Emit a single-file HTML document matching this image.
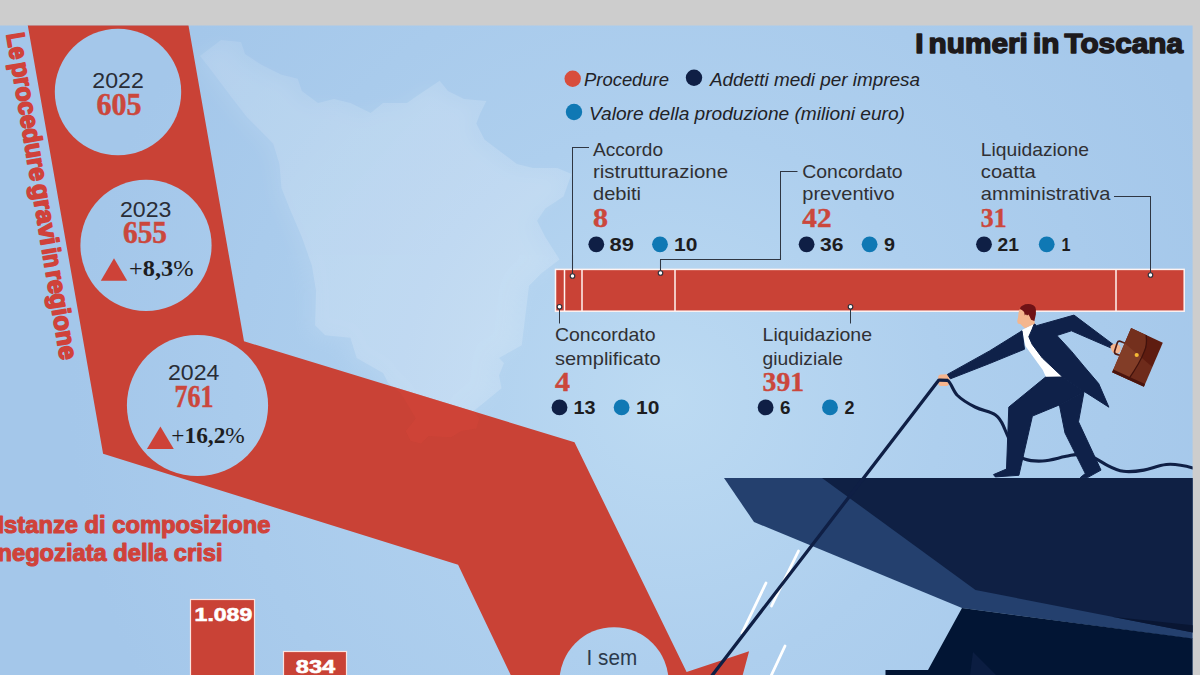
<!DOCTYPE html>
<html lang="it">
<head>
<meta charset="utf-8">
<title>I numeri in Toscana</title>
<style>
html,body{margin:0;padding:0;background:#cdcdcd;overflow:hidden}
body{width:1200px;height:675px;position:relative;font-family:"Liberation Sans",sans-serif}
svg{position:absolute;left:0;top:0;display:block}
text{font-family:"Liberation Sans",sans-serif}
.sans{font-family:"Liberation Sans",sans-serif}
.serif{font-family:"Liberation Serif",serif}
.lbl{font-size:19px;fill:#303034}
.num{font-family:"Liberation Serif",serif;font-weight:bold;font-size:26.5px;fill:#cb473c;stroke:#cb473c;stroke-width:0.4px}
.val{font-weight:bold;font-size:18px;fill:#1d1d1f}
.leg{font-style:italic;font-size:18.5px;fill:#222226}
.lead{fill:none;stroke:#2f3642;stroke-width:1.05}
.pin{fill:#fff;stroke:#2a303c;stroke-width:1.1}
</style>
</head>
<body>
<svg width="1200" height="675" viewBox="0 0 1200 675">
<defs>
  <radialGradient id="sky" gradientUnits="userSpaceOnUse" cx="670" cy="400" r="600">
    <stop offset="0" stop-color="#bcdaf2"/>
    <stop offset="0.45" stop-color="#aecfee"/>
    <stop offset="1" stop-color="#a4c7ea"/>
  </radialGradient>
  <linearGradient id="mapg" gradientUnits="userSpaceOnUse" x1="210" y1="50" x2="520" y2="330">
    <stop offset="0" stop-color="#ffffff" stop-opacity="0.10"/>
    <stop offset="0.5" stop-color="#ffffff" stop-opacity="0.15"/>
    <stop offset="1" stop-color="#ffffff" stop-opacity="0.17"/>
  </linearGradient>
  <filter id="blur8" x="-20%" y="-20%" width="140%" height="140%"><feGaussianBlur stdDeviation="9"/></filter>
  <clipPath id="clipSky"><rect x="0" y="25.5" width="1192.6" height="650"/></clipPath>
  <path id="tuscany" d="M200,56 L221,40 L241,42 L245,54 L261,64.5 L281.5,74.7 L297.7,78.8 L301.8,91 L318,103 L334,99 L350.5,103 L370.7,113 L383,103 L407,103 L415.4,97 L439.7,80.8 L447.9,91 L464,99 L486.4,101 L480.3,113.3 L476.3,123.4 L484.4,139.6 L500.6,151.8 L516.9,164 L533,168 L557.4,168 L571.6,174 L563.5,196.5 L545.3,208.6 L537,220.8 L545.3,237 L559.5,259.4 L541.2,273.6 L529,285.7 L526.7,305 L521.7,345.3 L499,358 L504,363 L499,375.6 L501.5,388.2 L486.4,400.8 L473.8,410.8 L479.3,418.4 L476.3,428.5 L461.2,431 L451,437.3 L428.5,436 L420.9,443.6 L410.8,441 L405.8,431 L415.9,418.4 L408.3,405.8 L400.8,393.2 L388.2,383.1 L383.1,373 L356.7,357.9 L350.4,337.8 L325.2,335.3 L315.1,325.2 L316,290.6 L311.9,265.5 L301.8,237 L289.6,208.6 L281.5,188.3 L279.4,164 L273.3,143.7 L261.2,131.5 L247,117.3 L232.8,99 L220.6,82.8 L208.4,66.6 Z"/>
  <path id="arrowShape" d="M27.7,25 L188.4,25 L244,341.3 L574.5,442.3 L686.6,672 L749.1,651.2 L741.4,680 L513.1,680 L458.1,564.8 L103.1,453.8 Z"/>
  <clipPath id="clipArrow"><use href="#arrowShape"/></clipPath>
</defs>

<!-- page grey -->
<rect x="0" y="0" width="1200" height="675" fill="#cdcdcd"/>
<!-- sky -->
<rect x="0" y="25.5" width="1192.6" height="650" fill="url(#sky)"/>

<g clip-path="url(#clipSky)">

<!-- Tuscany map (subtle) -->
<use href="#tuscany" fill="#ffffff" opacity="0.08" filter="url(#blur8)" transform="translate(-8,4)"/>
<use href="#tuscany" fill="url(#mapg)"/>

<!-- big red arrow -->
<use href="#arrowShape" fill="#c94236"/>
<g clip-path="url(#clipArrow)"><use href="#tuscany" fill="#d8483a" opacity="0.38"/></g>

<!-- year bubbles -->
<circle cx="118" cy="92" r="63.2" fill="url(#sky)"/>
<circle cx="146" cy="245.3" r="65.6" fill="url(#sky)"/>
<circle cx="197.5" cy="405.5" r="70.6" fill="url(#sky)"/>
<circle cx="614" cy="681.8" r="54.6" fill="url(#sky)"/>

<text x="92.3" y="88" font-size="22.2" fill="#2a2d36" textLength="51.5" lengthAdjust="spacingAndGlyphs">2022</text>
<text x="96.5" y="114.5" class="serif" font-weight="bold" font-size="30.5" fill="#cb473c" stroke="#cb473c" stroke-width="0.5" textLength="45" lengthAdjust="spacingAndGlyphs">605</text>

<text x="120" y="216.6" font-size="22.2" fill="#2a2d36" textLength="51.5" lengthAdjust="spacingAndGlyphs">2023</text>
<text x="123" y="243" class="serif" font-weight="bold" font-size="30.5" fill="#cb473c" stroke="#cb473c" stroke-width="0.5" textLength="44" lengthAdjust="spacingAndGlyphs">655</text>
<path d="M100.8,280.8 L127.2,280.8 L114,258.2 Z" fill="#cd4238"/>
<text x="129" y="275.6" class="serif" font-size="23.5" fill="#1d1d1f" textLength="64.5" lengthAdjust="spacingAndGlyphs"><tspan>+</tspan><tspan font-weight="bold">8,3</tspan><tspan>%</tspan></text>

<text x="167.9" y="380.4" font-size="22.2" fill="#2a2d36" textLength="51.5" lengthAdjust="spacingAndGlyphs">2024</text>
<text x="174.5" y="406.8" class="serif" font-weight="bold" font-size="30.5" fill="#cb473c" stroke="#cb473c" stroke-width="0.5" textLength="39" lengthAdjust="spacingAndGlyphs">761</text>
<path d="M146.9,448.9 L173.8,448.9 L160.4,426.5 Z" fill="#cd4238"/>
<text x="171.3" y="443" class="serif" font-size="24" fill="#1d1d1f" textLength="73.5" lengthAdjust="spacingAndGlyphs"><tspan>+</tspan><tspan font-weight="bold">16,2</tspan><tspan>%</tspan></text>

<text x="586.6" y="665.4" font-size="22" fill="#2c3a4c" textLength="50.6" lengthAdjust="spacingAndGlyphs">I sem</text>

<!-- rotated side title -->
<g transform="translate(6.3,33.3) rotate(80.6)" font-weight="bold" font-size="25.5" fill="#d0423a" stroke="#d0423a" stroke-width="1.7" stroke-linejoin="round">
  <text x="1" y="0" textLength="26.4" lengthAdjust="spacingAndGlyphs">Le</text>
  <text x="30.7" y="0" textLength="119.9" lengthAdjust="spacingAndGlyphs">procedure</text>
  <text x="154" y="0" textLength="61.8" lengthAdjust="spacingAndGlyphs">gravi</text>
  <text x="218.8" y="0" textLength="19.5" lengthAdjust="spacingAndGlyphs">in</text>
  <text x="241.4" y="0" textLength="90.4" lengthAdjust="spacingAndGlyphs">regione</text>
</g>

<!-- lower-left heading -->
<text x="-2.5" y="533" font-weight="bold" font-size="24" fill="#d0423a" stroke="#d0423a" stroke-width="1.1" stroke-linejoin="round" textLength="273" lengthAdjust="spacingAndGlyphs">Istanze di composizione</text>
<text x="-2.5" y="560.7" font-weight="bold" font-size="24" fill="#d0423a" stroke="#d0423a" stroke-width="1.1" stroke-linejoin="round" textLength="225" lengthAdjust="spacingAndGlyphs">negoziata della crisi</text>

<!-- bar chart -->
<rect x="190.5" y="599.5" width="64" height="80" fill="#c94236" stroke="#fbe3e0" stroke-width="1.2"/>
<text x="194.6" y="621.3" font-weight="bold" font-size="18.6" fill="#ffffff" stroke="#ffffff" stroke-width="0.6" textLength="57.6" lengthAdjust="spacingAndGlyphs">1.089</text>
<rect x="283.5" y="651.5" width="63" height="30" fill="#c94236" stroke="#fbe3e0" stroke-width="1.2"/>
<text x="295.8" y="673.3" font-weight="bold" font-size="18.6" fill="#ffffff" stroke="#ffffff" stroke-width="0.6" textLength="39.4" lengthAdjust="spacingAndGlyphs">834</text>

<!-- title -->
<text x="915.2" y="53" font-weight="bold" font-size="28.5" fill="#1d1a1c" stroke="#1d1a1c" stroke-width="1.5" stroke-linejoin="round" word-spacing="-3" textLength="267.8" lengthAdjust="spacingAndGlyphs">I numeri in Toscana</text>

<!-- legend -->
<circle cx="572.7" cy="78.7" r="8.2" fill="#d84d3c"/>
<text x="584" y="86" class="leg" textLength="85" lengthAdjust="spacingAndGlyphs">Procedure</text>
<circle cx="694" cy="77.7" r="8.2" fill="#0f1f45"/>
<text x="710" y="86" class="leg" textLength="210" lengthAdjust="spacingAndGlyphs">Addetti medi per impresa</text>
<circle cx="574" cy="112" r="8.2" fill="#0f78b4"/>
<text x="589" y="120" class="leg" textLength="316" lengthAdjust="spacingAndGlyphs">Valore della produzione (milioni euro)</text>

<!-- stacked bar -->
<rect x="555.5" y="269.4" width="628.7" height="41.8" fill="#c94236" stroke="#fff3f1" stroke-width="1.5"/>
<path d="M564.5,269.5V311 M582,269.5V311 M675,269.5V311 M1116,269.5V311" stroke="#fff3f1" stroke-width="1.5" fill="none"/>

<!-- leader lines -->
<path class="lead" d="M589,147.5 H572.5 V276"/>
<path class="lead" d="M797.5,171.5 H780.5 V259.5 H660.5 V273"/>
<path class="lead" d="M1114,196.5 H1150.5 V275"/>
<path class="lead" d="M559.5,307 V323.5"/>
<path class="lead" d="M850.5,307 V323.5"/>
<circle class="pin" cx="572.5" cy="276" r="2.3"/>
<circle class="pin" cx="660.5" cy="273" r="2.3"/>
<circle class="pin" cx="1150.5" cy="275" r="2.3"/>
<circle class="pin" cx="559.5" cy="306.8" r="2.3"/>
<circle class="pin" cx="850.5" cy="306.8" r="2.3"/>

<!-- Accordo ristrutturazione debiti -->
<text x="593" y="156" class="lbl" textLength="70" lengthAdjust="spacingAndGlyphs">Accordo</text>
<text x="593" y="177.6" class="lbl" textLength="135" lengthAdjust="spacingAndGlyphs">ristrutturazione</text>
<text x="593" y="199.6" class="lbl" textLength="48" lengthAdjust="spacingAndGlyphs">debiti</text>
<text x="593" y="227" class="num" textLength="15" lengthAdjust="spacingAndGlyphs">8</text>
<circle cx="596.3" cy="244.3" r="7.9" fill="#0f1f45"/>
<text x="609.6" y="250.6" class="val" textLength="24.4" lengthAdjust="spacingAndGlyphs">89</text>
<circle cx="660" cy="244.3" r="7.9" fill="#0f78b4"/>
<text x="674" y="250.6" class="val" textLength="23.4" lengthAdjust="spacingAndGlyphs">10</text>

<!-- Concordato preventivo -->
<text x="802.3" y="177.6" class="lbl" textLength="100.3" lengthAdjust="spacingAndGlyphs">Concordato</text>
<text x="802.3" y="199.6" class="lbl" textLength="92.4" lengthAdjust="spacingAndGlyphs">preventivo</text>
<text x="802.3" y="227" class="num" textLength="29.3" lengthAdjust="spacingAndGlyphs">42</text>
<circle cx="806.6" cy="244.3" r="7.9" fill="#0f1f45"/>
<text x="820" y="250.6" class="val" textLength="23.5" lengthAdjust="spacingAndGlyphs">36</text>
<circle cx="869.6" cy="244.3" r="7.9" fill="#0f78b4"/>
<text x="884" y="250.6" class="val" textLength="11" lengthAdjust="spacingAndGlyphs">9</text>

<!-- Liquidazione coatta amministrativa -->
<text x="980.8" y="156" class="lbl" textLength="108.2" lengthAdjust="spacingAndGlyphs">Liquidazione</text>
<text x="980.8" y="177.6" class="lbl" textLength="55" lengthAdjust="spacingAndGlyphs">coatta</text>
<text x="980.8" y="199.6" class="lbl" textLength="129.7" lengthAdjust="spacingAndGlyphs">amministrativa</text>
<text x="980.8" y="227" class="num" textLength="25.8" lengthAdjust="spacingAndGlyphs">31</text>
<circle cx="984" cy="244.3" r="7.9" fill="#0f1f45"/>
<text x="997.6" y="250.6" class="val" textLength="21.4" lengthAdjust="spacingAndGlyphs">21</text>
<circle cx="1046.7" cy="244.3" r="7.9" fill="#0f78b4"/>
<text x="1061.5" y="250.6" class="val" textLength="9" lengthAdjust="spacingAndGlyphs">1</text>

<!-- Concordato semplificato -->
<text x="555" y="341.4" class="lbl" textLength="100.5" lengthAdjust="spacingAndGlyphs">Concordato</text>
<text x="555" y="364.5" class="lbl" textLength="105.6" lengthAdjust="spacingAndGlyphs">semplificato</text>
<text x="555" y="390.6" class="num" textLength="15" lengthAdjust="spacingAndGlyphs">4</text>
<circle cx="559.5" cy="407.4" r="7.9" fill="#0f1f45"/>
<text x="573.6" y="414" class="val" textLength="22" lengthAdjust="spacingAndGlyphs">13</text>
<circle cx="621.6" cy="407.4" r="7.9" fill="#0f78b4"/>
<text x="636" y="414" class="val" textLength="23.4" lengthAdjust="spacingAndGlyphs">10</text>

<!-- Liquidazione giudiziale -->
<text x="762.6" y="341.4" class="lbl" textLength="109.4" lengthAdjust="spacingAndGlyphs">Liquidazione</text>
<text x="762.6" y="364.5" class="lbl" textLength="80.4" lengthAdjust="spacingAndGlyphs">giudiziale</text>
<text x="762.6" y="390.6" class="num" textLength="41.4" lengthAdjust="spacingAndGlyphs">391</text>
<circle cx="765.6" cy="407.4" r="7.9" fill="#0f1f45"/>
<text x="780" y="414" class="val" textLength="10.5" lengthAdjust="spacingAndGlyphs">6</text>
<circle cx="830" cy="407.4" r="7.9" fill="#0f78b4"/>
<text x="844.5" y="414" class="val" textLength="10" lengthAdjust="spacingAndGlyphs">2</text>

<!-- motion streaks -->
<g stroke="#ffffff" stroke-width="2.8" stroke-linecap="round" fill="none">
  <path d="M798.5,551 L771.5,606"/>
  <path d="M766,583 L742,633"/>
  <path d="M785,646 L771,676"/>
</g>

<!-- cliff -->
<path d="M724,478 L1193,478 L1193,639 L962,608 L754,522 Z" fill="#24406e"/>
<path d="M822,478 L1193,478 L1193,632.6 L975.5,590 Z" fill="#0f2044"/>
<path d="M1112,616.8 L1193,625.3 L1193,632.6 Z" fill="#091633"/>
<path d="M962,608 L1193,638.5 L1193,675 L885.5,675 L885.5,670 L928,670 Z" fill="#021534"/>
<path d="M973,652 L996,675 L970,675 Z" fill="#0b1d41"/>

<!-- left hand -->
<path d="M938.2,376.6 Q938.6,374.6 941,374.5 L947,374.3 Q949.3,374.5 949.6,377 L949.3,383.6 Q949,385.9 946.6,386 L940.6,386 Q938.3,385.8 938.1,383.6 Z" fill="#f6b58e"/>
<!-- rope (taut part) -->
<path d="M708.6,680 L938.1,380.9 Q938.6,380.2 939.6,380.2 L947.6,380.4" stroke="#0f1f45" stroke-width="3.3" fill="none" stroke-linejoin="round"/>
<!-- rope (slack part) -->
<path d="M947.5,380.4 C950.5,381.5 953,390.5 957,395 C963,401 969,404 975,407 C983,411 990,411 995.5,415 C1001,419 1002,423 1004.5,428.5 C1008,437 1011,444 1015.5,451 C1018,455 1020,457.5 1024.5,459 C1030,461 1036,461.3 1042.5,461 C1050,460.6 1058,458 1065,456.6 C1070,455.5 1074,454.3 1078.5,454.4 C1083,454.5 1088,454.8 1092,456.6 C1098,459.3 1102,462.6 1107.8,465.6 C1113,468.3 1118,470.6 1123.5,471.3 C1130,472.1 1137,471.3 1143.8,470.1 C1151,468.8 1158,465.3 1166.3,464.5 C1175,463.7 1184,465.5 1193,468" stroke="#0f1f45" stroke-width="3.1" fill="none" stroke-linecap="round"/>

<!-- man -->
<g id="man" stroke-linejoin="round">
  <!-- legs -->
  <path d="M1045.9,376.8 L1062,376.4 L1084.1,391.4 L1059.4,404.9 L1032.4,416.1 L1018.9,475.3 L995.3,476.9 L993.5,474.6 L1006.5,469 L1008.8,407.1 Z" fill="#0f2149" stroke="#0f2149" stroke-width="1"/>
  <path d="M1059.4,404.9 L1084.1,391.4 L1078.5,421.8 L1101,470.1 L1087.5,477.6 L1080.3,477.6 L1085.3,473.5 L1065,433 Z" fill="#0f2149" stroke="#0f2149" stroke-width="1"/>
  <!-- shirt -->
  <path d="M1022,329.9 L1034.3,323.6 L1032.2,329.1 L1028.8,336.7 L1032.2,344.4 L1042.4,358 L1062,376.4 L1045.8,376.8 L1042.8,370 L1025.4,346.1 Z" fill="#ffffff"/>
  <!-- left arm -->
  <path d="M1022,330.8 L1024.5,349.2 L989.6,363.5 L950.4,378.8 L947.4,374.4 L989.6,350.9 Z" fill="#0f2149" stroke="#0f2149" stroke-width="1"/>
  <!-- right arm + torso + tail -->
  <path d="M1034.3,323.6 L1036.5,325.7 L1074,315.1 L1113.1,344.4 L1110.6,347.8 L1071.4,330.8 L1056.9,335.5 L1071.4,351.2 L1084.2,366.6 L1098.7,383.6 L1108.9,407.2 L1084.1,391.4 L1062,376.4 L1042.4,358 L1032.2,344.4 L1028.8,336.7 L1032.2,329.1 Z" fill="#0f2149" stroke="#0f2149" stroke-width="1"/>
  <!-- neck/face -->
  <path d="M1019.4,309.5 L1030,309.5 L1034.4,320.9 L1034.9,323.6 L1032.6,324.8 L1025,328.2 L1022.2,326.1 L1020.7,324.3 L1017.8,323.5 L1017.2,320.9 L1018.1,317.2 L1018.5,312.8 Z" fill="#f4b68e"/>
  <!-- hair -->
  <path d="M1020,308.7 Q1020.3,306.6 1021.8,305.9 L1025.2,304.3 Q1029.6,303.2 1033.3,305.2 Q1035.8,306.6 1035.9,309.5 L1035.9,314.3 L1034.4,321.1 L1031.1,319.8 L1029.6,316.5 L1028.5,314.6 L1027,315.4 L1025.9,314.3 L1024.8,315.4 L1024.1,312 L1022.2,310.2 Z" fill="#6f1216"/>
  <!-- hands -->
  <path d="M1110.4,346.3 Q1112,343.6 1115.5,343.8 Q1119.6,344 1120.4,347 Q1121,350.5 1119.3,352.6 Q1116.5,354.4 1113.8,353.3 Q1111.3,351.5 1110.4,346.3 Z" fill="#f6b58e"/>
</g>

<!-- briefcase -->
<g id="case">
  <path d="M1125,343.2 L1120.2,341.3 Q1118,340.8 1117.3,342.8 L1114.6,351.3 Q1114.2,353.4 1116.2,354.1 L1121,355.8" fill="none" stroke="#4d1a14" stroke-width="1.7" stroke-linecap="round"/>
  <path d="M1131.1,328 L1162.8,342.8 L1143.9,386.7 L1112.2,372.2 Z" fill="#5e1c10"/>
  <path d="M1131.1,328 L1146.1,335 C1147,342 1146.4,347 1144.4,351.1 C1141.5,359 1137,367 1128.3,379.6 L1112.2,372.2 Z" fill="#74301d"/>
  <path d="M1122.2,341.1 L1152.4,366.9 L1143.9,386.7 L1112.2,372.2 Z" fill="#ffb080" opacity="0.10"/>
  <path d="M1146.1,335 C1147,342 1146.4,347 1144.4,351.1 C1141.5,359 1137,367 1128.3,379.6" fill="none" stroke="#42120c" stroke-width="1.3"/>
  <path d="M1112.2,372.2 L1143.9,386.7 L1145,384.1 L1113.3,369.6 Z" fill="#4a140d"/>
  <circle cx="1136.7" cy="355" r="2.1" fill="#f5b935"/>
</g>

</g>
</svg>
</body>
</html>
